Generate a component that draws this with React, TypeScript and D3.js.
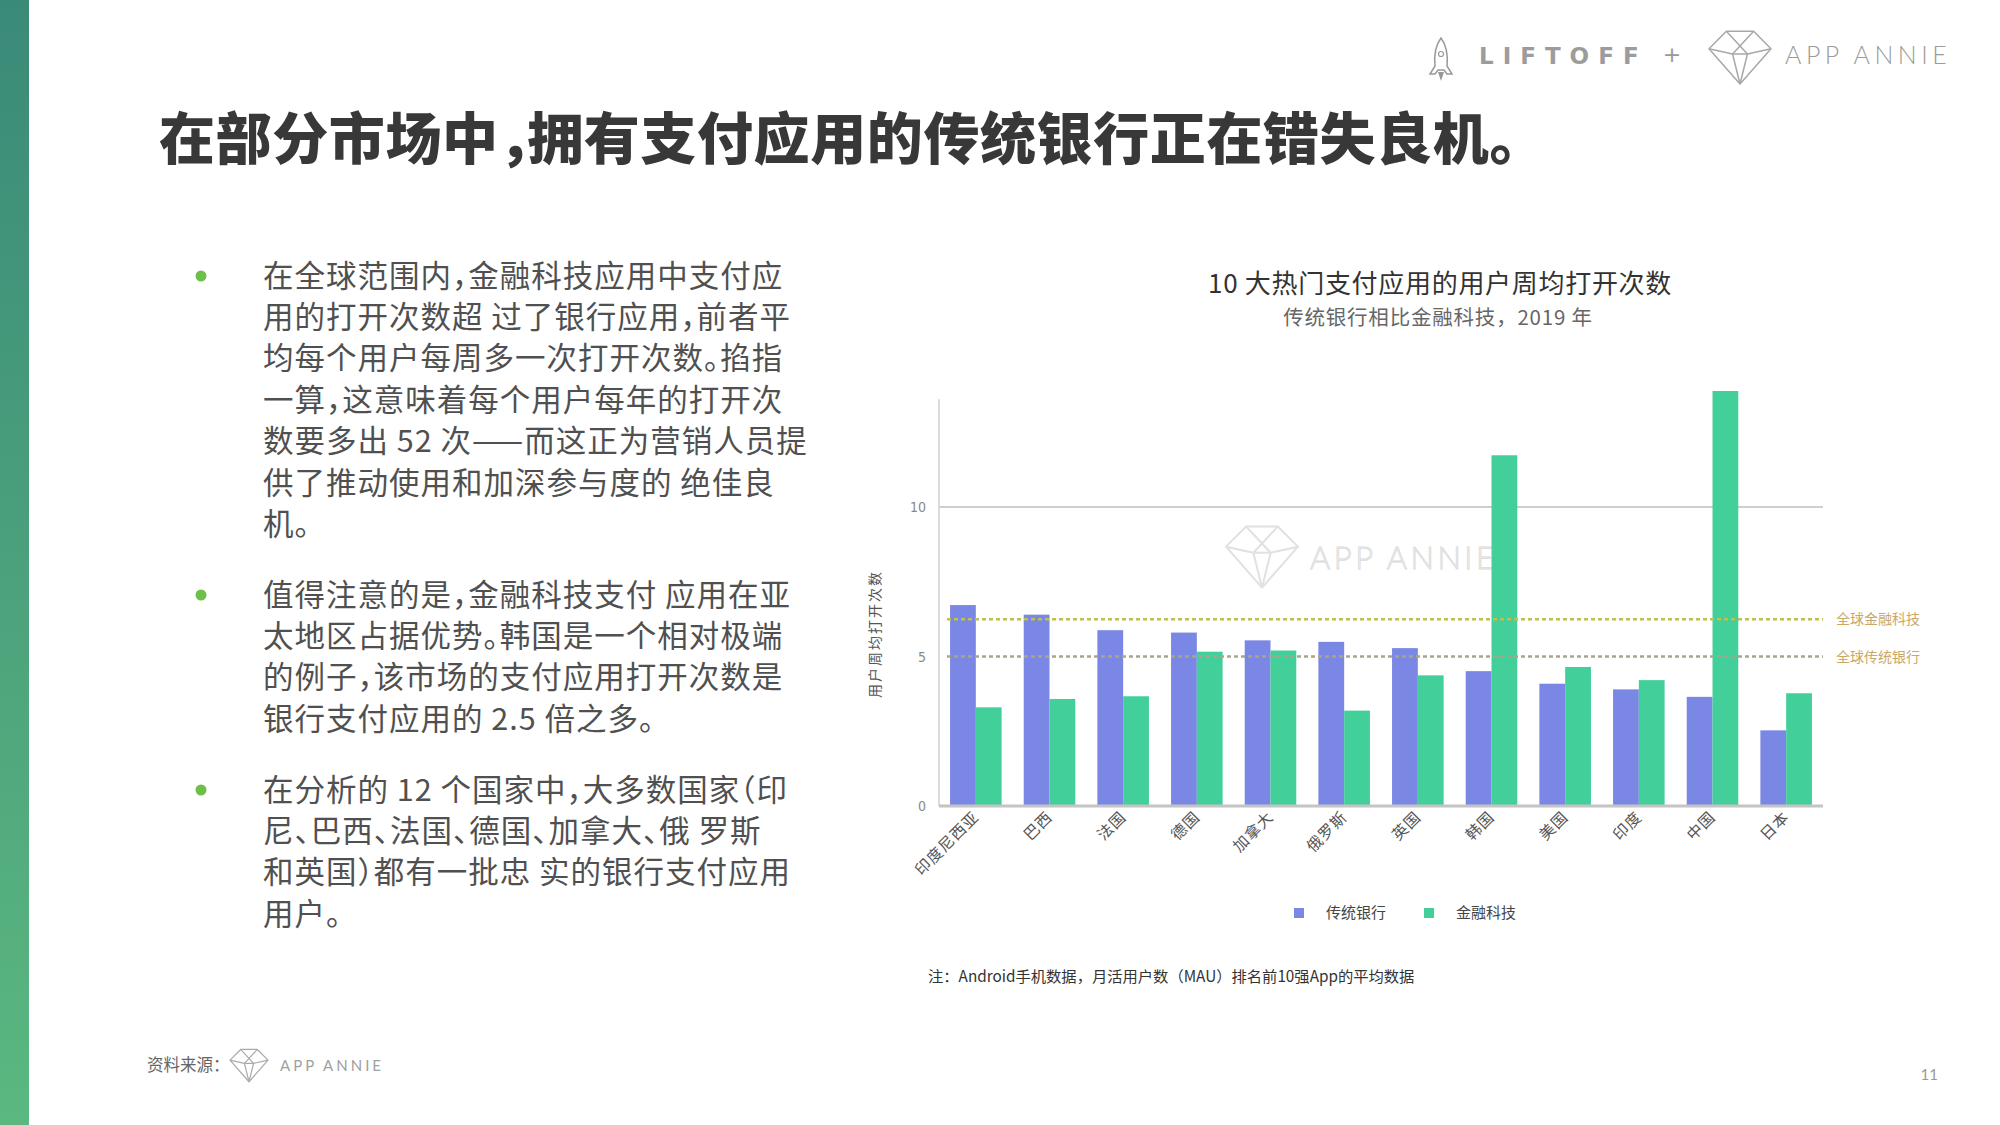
import React from 'react'
import * as d3 from 'd3'

const countries = ['印度尼西亚', '巴西', '法国', '德国', '加拿大', '俄罗斯', '英国', '韩国', '美国', '印度', '中国', '日本']
const bankValues = [6.72, 6.4, 5.88, 5.8, 5.54, 5.49, 5.28, 4.51, 4.09, 3.9, 3.65, 2.53]
const fintechValues = [3.3, 3.58, 3.67, 5.16, 5.2, 3.19, 4.37, 11.73, 4.65, 4.21, 13.88, 3.77]
const seriesNames = ['传统银行', '金融科技']
const seriesColors = ['#7a87e4', '#43cf9a']
const yTicks = [0, 5, 10]
const gridTicks = [10]
const averages = [
  { label: '全球金融科技', value: 6.25, color: '#bcc24a' },
  { label: '全球传统银行', value: 5.0, color: '#aaa58a' },
]

const bullets = [
  [
    '在全球范围内，金融科技应用中支付应',
    '用的打开次数超 过了银行应用，前者平',
    '均每个用户每周多一次打开次数。掐指',
    '一算，这意味着每个用户每年的打开次',
    '数要多出 52 次——而这正为营销人员提',
    '供了推动使用和加深参与度的 绝佳良',
    '机。',
  ],
  [
    '值得注意的是，金融科技支付 应用在亚',
    '太地区占据优势。韩国是一个相对极端',
    '的例子，该市场的支付应用打开次数是',
    '银行支付应用的 2.5 倍之多。',
  ],
  [
    '在分析的 12 个国家中，大多数国家（印',
    '尼、巴西、法国、德国、加拿大、俄 罗斯',
    '和英国）都有一批忠 实的银行支付应用',
    '用户。',
  ],
]
const bulletTops = [276, 595, 790]

const FONT = '"Noto Sans CJK SC", "Noto Sans", sans-serif'
// the slide sets CJK punctuation half-width
const HALF = { fontFeatureSettings: '"halt"' }

// diamond logo outline, centred at (cx, cy), width w
function Diamond({ cx, cy, w, stroke, sw = 1.5 }: { cx: number; cy: number; w: number; stroke: string; sw?: number }) {
  const h = w * 0.85
  const top = cy - h * 0.45
  const mid = cy - h * 0.12
  const bot = cy + h * 0.55
  const outer = [
    [cx - w * 0.5, mid],
    [cx - w * 0.22, top],
    [cx + w * 0.22, top],
    [cx + w * 0.5, mid],
    [cx, bot],
  ]
  const line = d3.line()
  return (
    <g fill="none" stroke={stroke} strokeWidth={sw} strokeLinejoin="round">
      <path d={line(outer as any) + 'Z'} />
      <path d={`M${cx - w * 0.22},${top}L${cx + w * 0.12},${mid + h * 0.1}L${cx},${bot}`} />
      <path d={`M${cx + w * 0.22},${top}L${cx - w * 0.12},${mid + h * 0.1}L${cx},${bot}`} />
      <path d={`M${cx - w * 0.5},${mid}L${cx - w * 0.12},${mid + h * 0.1}L${cx + w * 0.12},${mid + h * 0.1}L${cx + w * 0.5},${mid}`} />
    </g>
  )
}

export default function App() {
  const W = 2000
  const H = 1125

  const x0 = d3.scaleBand<string>().domain(countries).range([939, 1823]).paddingInner(0.3).paddingOuter(0.15)
  const x1 = d3.scaleBand<number>().domain([0, 1]).range([0, x0.bandwidth()])
  const y = d3.scaleLinear().domain([0, 10]).range([806, 507])

  const series = [bankValues, fintechValues]
  const [xl, xr] = x0.range()

  return (
    <svg
      width={W}
      height={H}
      viewBox={`0 0 ${W} ${H}`}
      style={{ position: 'absolute', left: 0, top: 0, background: '#fff' }}
      fontFamily={FONT}
    >
      <defs>
        <linearGradient id="sidebar" x1="0" y1="0" x2="0" y2="1">
          <stop offset="0%" stopColor="#3a8a78" />
          <stop offset="100%" stopColor="#5bb880" />
        </linearGradient>
      </defs>
      <rect x={0} y={0} width={W} height={H} fill="#fff" />
      <rect x={0} y={0} width={29} height={H} fill="url(#sidebar)" />

      {/* header logos */}
      <g transform="translate(-13,0)">
        <path
          d="M1454,38 C1448,46 1447,56 1448,66 L1443,74 L1448,74 L1451,70 L1457,70 L1460,74 L1465,74 L1460,66 C1461,56 1460,46 1454,38 Z"
          fill="none"
          stroke="#999"
          strokeWidth={1.5}
        />
        <circle cx={1454} cy={54} r={2.5} fill="none" stroke="#999" strokeWidth={1.2} />
        <path d="M1451,72 L1454,81 L1457,72 Z" fill="#999" />
      </g>
      <text x={1479} y={64} fontSize={23} fontWeight={700} letterSpacing={9} fill="#9c9c9c" fontFamily="'DejaVu Sans', sans-serif">
        LIFTOFF
      </text>
      <text x={1672} y={62} fontSize={22} fill="#999" textAnchor="middle" fontFamily="'DejaVu Sans', sans-serif">
        +
      </text>
      <Diamond cx={1740} cy={55} w={62} stroke="#a8a8a8" sw={1.5} />
      <text x={1785} y={64} fontSize={25} fontWeight={300} letterSpacing={4.5} fill="#9c9c9c" fontFamily="Lato, sans-serif">
        APP ANNIE
      </text>

      {/* title */}
      <text x={159} y={159} fontSize={56} fontWeight={900} letterSpacing={0.6} fill="#383838" style={HALF}>
        在部分市场中，拥有支付应用的传统银行正在错失良机。
      </text>

      {/* bullets */}
      {bullets.map((lines, bi) => (
        <g key={bi}>
          <circle cx={201} cy={bulletTops[bi]} r={5.5} fill="#6cc04a" />
          {lines.map((ln, li) => (
            <text key={li} x={263} y={bulletTops[bi] + 10.5 + li * 41.4} fontSize={30.5} letterSpacing={1} fill="#505050" style={HALF}>
              {ln}
            </text>
          ))}
        </g>
      ))}

      {/* chart titles */}
      <text x={1440} y={293} fontSize={26} letterSpacing={0.7} fill="#333" textAnchor="middle">
        10 大热门支付应用的用户周均打开次数
      </text>
      <text x={1438} y={325} fontSize={20.5} letterSpacing={0.8} fill="#666" textAnchor="middle">
        传统银行相比金融科技，2019 年
      </text>

      {/* watermark */}
      <g opacity={0.9}>
        <Diamond cx={1262} cy={554} w={72} stroke="#dedede" sw={2} />
        <text x={1310} y={569} fontSize={31} fontWeight={300} letterSpacing={3.5} fill="#f0f0f0" stroke="#d8d8d8" strokeWidth={0.8} fontFamily="Lato, sans-serif">
          APP ANNIE
        </text>
      </g>

      {/* axes and grid */}
      <line x1={xl} x2={xl} y1={y(0)} y2={y(13.6)} stroke="#dcdcdc" strokeWidth={2} />
      {gridTicks.map((t) => (
        <line key={t} x1={xl} x2={xr} y1={y(t)} y2={y(t)} stroke="#cfcfcf" strokeWidth={2} />
      ))}
      {yTicks.map((t) => (
        <text key={t} x={xl - 13} y={y(t) + 5} fontSize={14} fill="#8a8a8a" textAnchor="end" fontFamily="'Liberation Sans Narrow', 'DejaVu Sans Condensed', sans-serif">
          {t}
        </text>
      ))}
      <text transform={`translate(880, ${y(5.75)}) rotate(-90)`} fontSize={14} fill="#555" textAnchor="middle" letterSpacing={2}>
        用户周均打开次数
      </text>

      {/* bars */}
      {countries.map((c, i) => (
        <g key={c} transform={`translate(${x0(c)},0)`}>
          {series.map((vals, s) => (
            <rect
              key={s}
              x={x1(s)}
              y={y(vals[i])}
              width={x1.bandwidth()}
              height={y(0) - y(vals[i])}
              fill={seriesColors[s]}
            />
          ))}
        </g>
      ))}

      <line x1={xl} x2={xr} y1={y(0)} y2={y(0)} stroke="#c4c4c4" strokeWidth={3} />

      {/* global averages */}
      {averages.map((a) => (
        <g key={a.label}>
          <line x1={xl + 8} x2={xr} y1={y(a.value)} y2={y(a.value)} stroke={a.color} strokeWidth={2.5} strokeDasharray="4 3" />
          <text x={1836} y={y(a.value) + 5} fontSize={14} fill="#c9a866">
            {a.label}
          </text>
        </g>
      ))}

      {/* x labels */}
      {countries.map((c) => (
        <text
          key={c}
          transform={`translate(${(x0(c) as number) + x0.bandwidth() / 2 + 4}, ${y(0) + 12}) rotate(-45)`}
          fontSize={15.5}
          fill="#555"
          textAnchor="end"
          letterSpacing={1}
        >
          {c}
        </text>
      ))}

      {/* legend */}
      {seriesNames.map((n, i) => (
        <g key={n} transform={`translate(${1294 + i * 130}, 913)`}>
          <rect x={0} y={-5} width={10} height={10} fill={seriesColors[i]} />
          <text x={32} y={5} fontSize={15} fill="#444">
            {n}
          </text>
        </g>
      ))}

      {/* note */}
      <text x={928} y={982} fontSize={15.3} fill="#333">
        注：Android手机数据，月活用户数（MAU）排名前10强App的平均数据
      </text>

      {/* footer */}
      <text x={147} y={1071} fontSize={16.5} fill="#666">
        资料来源：
      </text>
      <Diamond cx={249} cy={1064} w={38} stroke="#aaa" sw={1.2} />
      <text x={280} y={1071} fontSize={15} fill="#a0a0a0" letterSpacing={3} fontFamily="Lato, sans-serif">
        APP ANNIE
      </text>
      <text x={1938} y={1080} fontSize={15} fill="#999" textAnchor="end" fontFamily="Lato, sans-serif">
        11
      </text>
    </svg>
  )
}
